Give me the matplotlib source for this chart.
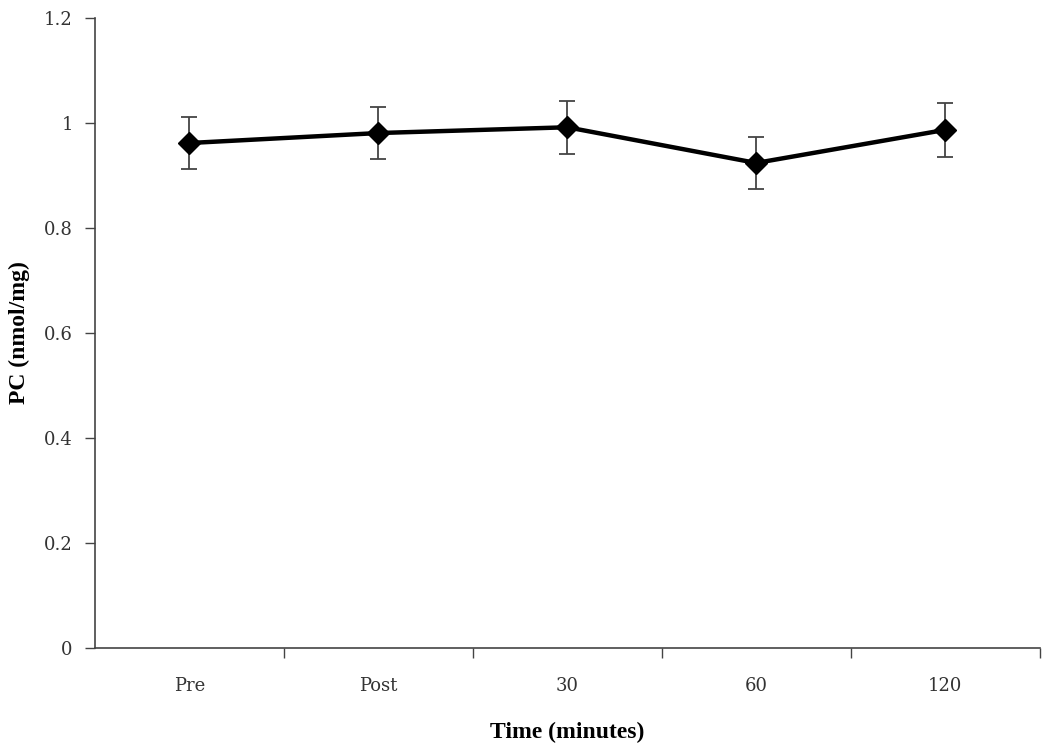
import matplotlib
matplotlib.use("Agg")
import matplotlib.pyplot as plt

# data
time_labels = ["Pre", "Post", "30", "60", "120"]
pc_mean = [0.962, 0.981, 0.992, 0.924, 0.987]
pc_err = [0.050, 0.050, 0.050, 0.050, 0.051]
y_ticks = [0, 0.2, 0.4, 0.6, 0.8, 1, 1.2]

plt.rcParams["font.family"] = ["DejaVu Serif"]

fig = plt.figure(figsize=(10.5, 7.53), dpi=100)
ax = fig.add_axes([0.0905, 0.1394, 0.8995, 0.8366])

x = list(range(len(time_labels)))
ax.errorbar(x, pc_mean, yerr=pc_err, color="black", lw=3.2,
            marker="D", markersize=11, ecolor="#444444", elinewidth=1.3,
            capsize=6, capthick=1.3, zorder=3)

ax.set_xlim(-0.5, len(time_labels) - 0.5)
ax.set_ylim(0, 1.2)
ax.set_yticks(y_ticks)
ax.set_yticklabels(["0", "0.2", "0.4", "0.6", "0.8", "1", "1.2"])
ax.set_xticks(x)
ax.set_xticklabels(time_labels)
ax.tick_params(axis="x", length=0, pad=21, labelsize=13, colors="#333333")
ax.set_xticks([i + 0.5 for i in range(len(time_labels))], minor=True)
ax.tick_params(axis="x", which="minor", length=7, direction="out", width=1, color="#444444")
ax.tick_params(axis="y", length=7, direction="out", width=1, pad=9, labelsize=13,
               colors="#333333", color="#444444")

for s in ["top", "right"]:
    ax.spines[s].set_visible(False)
for s in ["left", "bottom"]:
    ax.spines[s].set_color("#444444")
    ax.spines[s].set_linewidth(1.2)

ax.set_xlabel("Time (minutes)", family=["Liberation Serif"], fontweight="bold",
              fontsize=17, labelpad=19)
ax.set_ylabel("PC (nmol/mg)", family=["Liberation Serif"], fontweight="bold",
              fontsize=17, labelpad=10)

fig.savefig("out.png", dpi=100)
